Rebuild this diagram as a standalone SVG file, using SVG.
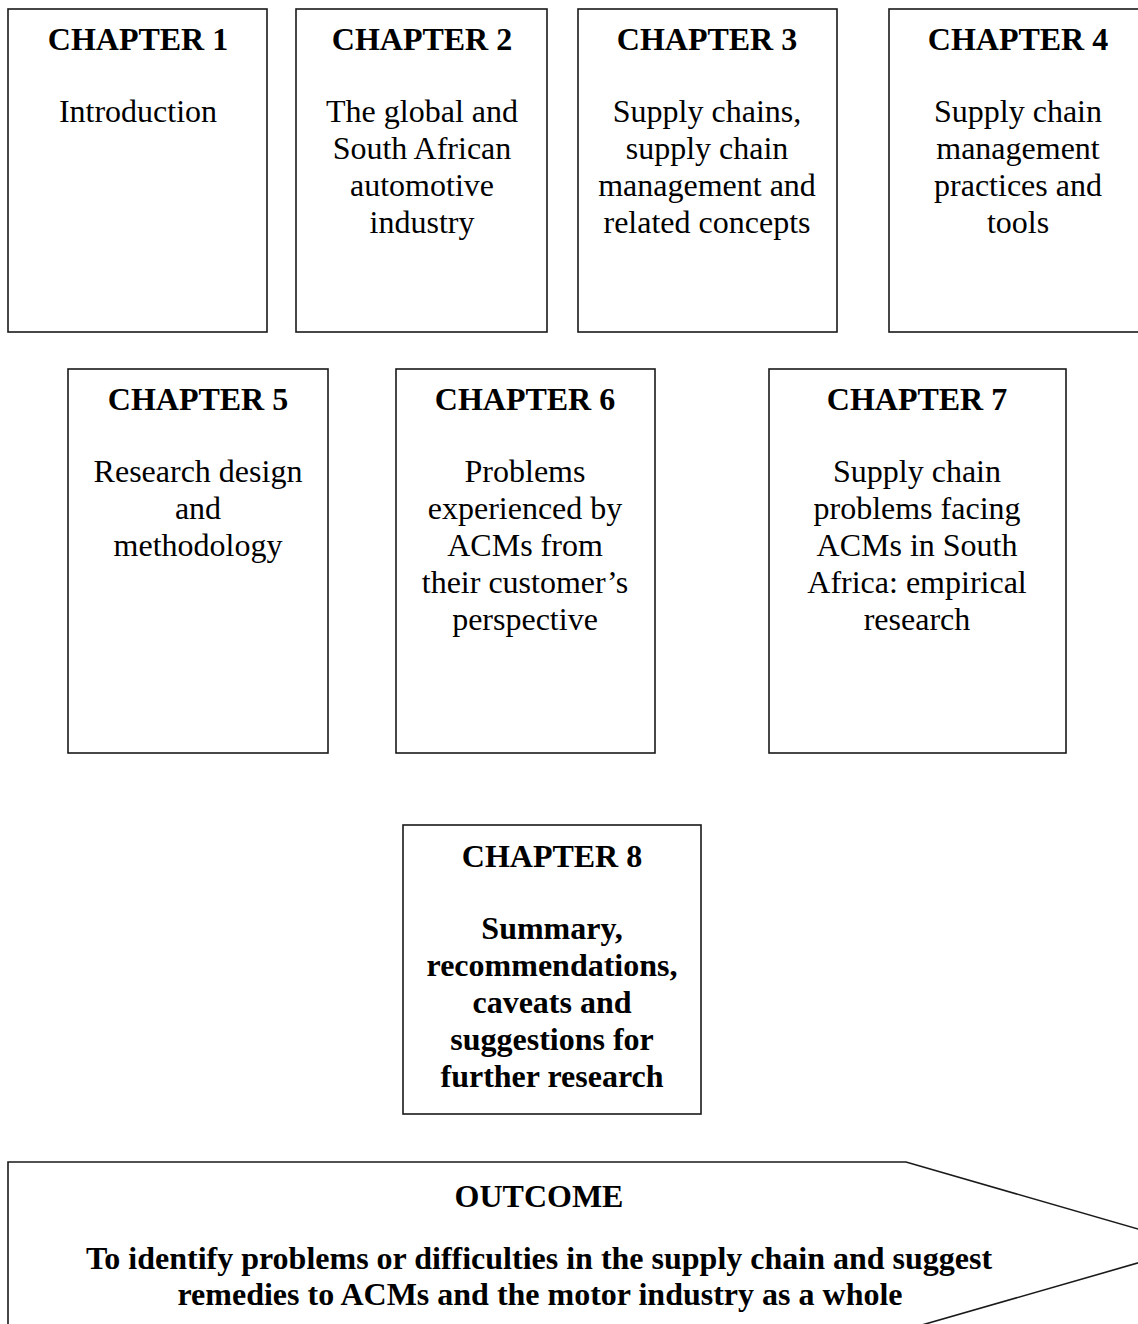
<svg xmlns="http://www.w3.org/2000/svg" width="1138" height="1324" viewBox="0 0 1138 1324">
  <style>
    .box { fill: #ffffff; stroke: #1a1a1a; stroke-width: 1.6; }
    .title { font-family: "Liberation Serif", "Times New Roman", serif; font-size: 32px; font-weight: bold; text-anchor: middle; fill: #000; }
    .body { font-family: "Liberation Serif", "Times New Roman", serif; font-size: 32px; text-anchor: middle; fill: #000; }
    .bold { font-weight: bold; }
  </style>
  <rect width="1138" height="1324" fill="#ffffff"/>

  <!-- top row: chapters 1-4 -->
  <g id="chapter1">
    <rect class="box" x="8" y="9" width="259" height="323"/>
    <text class="title" x="138" y="50">CHAPTER 1</text>
    <text class="body" x="138" y="122">Introduction</text>
  </g>

  <g id="chapter2">
    <rect class="box" x="296" y="9" width="251" height="323"/>
    <text class="title" x="422" y="50">CHAPTER 2</text>
    <text class="body" x="422" y="122">The global and</text>
    <text class="body" x="422" y="159">South African</text>
    <text class="body" x="422" y="196">automotive</text>
    <text class="body" x="422" y="233">industry</text>
  </g>

  <g id="chapter3">
    <rect class="box" x="578" y="9" width="259" height="323"/>
    <text class="title" x="707" y="50">CHAPTER 3</text>
    <text class="body" x="707" y="122">Supply chains,</text>
    <text class="body" x="707" y="159">supply chain</text>
    <text class="body" x="707" y="196">management and</text>
    <text class="body" x="707" y="233">related concepts</text>
  </g>

  <g id="chapter4">
    <rect class="box" x="889" y="9" width="260" height="323"/>
    <text class="title" x="1018" y="50">CHAPTER 4</text>
    <text class="body" x="1018" y="122">Supply chain</text>
    <text class="body" x="1018" y="159">management</text>
    <text class="body" x="1018" y="196">practices and</text>
    <text class="body" x="1018" y="233">tools</text>
  </g>

  <!-- middle row: chapters 5-7 -->
  <g id="chapter5">
    <rect class="box" x="68" y="369" width="260" height="384"/>
    <text class="title" x="198" y="410">CHAPTER 5</text>
    <text class="body" x="198" y="482">Research design</text>
    <text class="body" x="198" y="519">and</text>
    <text class="body" x="198" y="556">methodology</text>
  </g>

  <g id="chapter6">
    <rect class="box" x="396" y="369" width="259" height="384"/>
    <text class="title" x="525" y="410">CHAPTER 6</text>
    <text class="body" x="525" y="482">Problems</text>
    <text class="body" x="525" y="519">experienced by</text>
    <text class="body" x="525" y="556">ACMs from</text>
    <text class="body" x="525" y="593">their customer’s</text>
    <text class="body" x="525" y="630">perspective</text>
  </g>

  <g id="chapter7">
    <rect class="box" x="769" y="369" width="297" height="384"/>
    <text class="title" x="917" y="410">CHAPTER 7</text>
    <text class="body" x="917" y="482">Supply chain</text>
    <text class="body" x="917" y="519">problems facing</text>
    <text class="body" x="917" y="556">ACMs in South</text>
    <text class="body" x="917" y="593">Africa: empirical</text>
    <text class="body" x="917" y="630">research</text>
  </g>

  <!-- chapter 8 -->
  <g id="chapter8">
    <rect class="box" x="403" y="825" width="298" height="289"/>
    <text class="title" x="552" y="867">CHAPTER 8</text>
    <text class="body bold" x="552" y="939">Summary,</text>
    <text class="body bold" x="552" y="976">recommendations,</text>
    <text class="body bold" x="552" y="1013">caveats and</text>
    <text class="body bold" x="552" y="1050">suggestions for</text>
    <text class="body bold" x="552" y="1087">further research</text>
  </g>

  <!-- outcome: pentagon arrow pointing right -->
  <g id="outcome">
    <path class="box" d="M8,1360 L8,1162 L906,1162 L1197,1246 L880,1337"/>
    <text class="title" x="539" y="1207">OUTCOME</text>
    <text class="title" x="539" y="1269">To identify problems or difficulties in the supply chain and suggest</text>
    <text class="title" x="540" y="1305">remedies to ACMs and the motor industry as a whole</text>
  </g>
</svg>
